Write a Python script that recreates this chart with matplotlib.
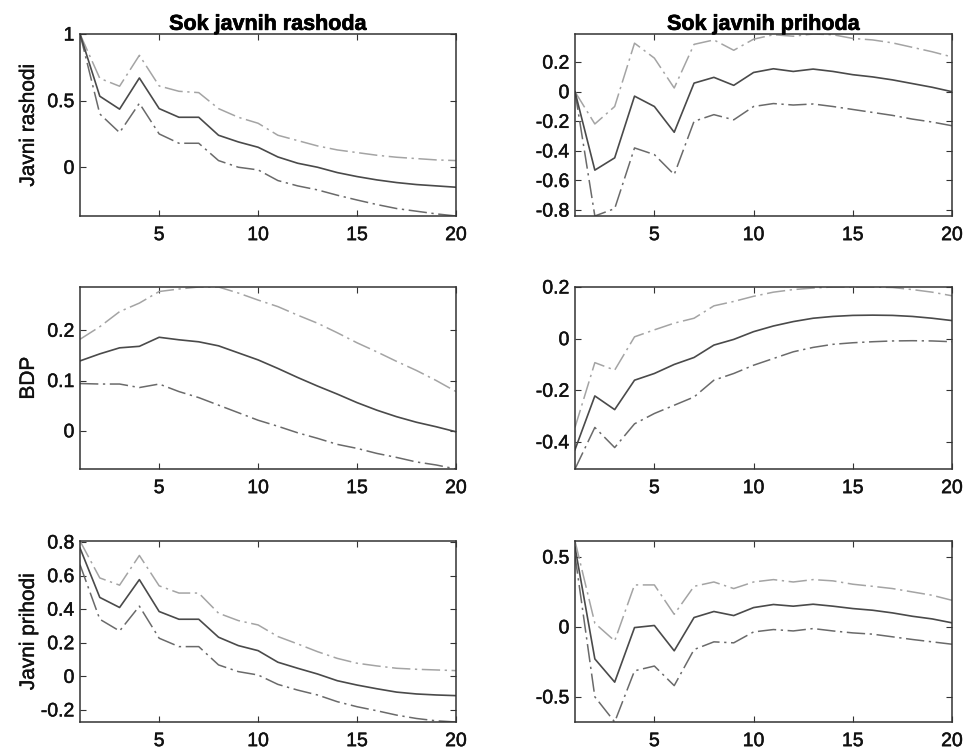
import matplotlib
matplotlib.use("Agg")
import matplotlib.pyplot as plt
import matplotlib.patheffects as pe
import numpy as np

plt.rcParams['font.family'] = ['Liberation Sans', 'DejaVu Sans']

periods = list(range(1, 21))

col_titles = ["Sok javnih rashoda", "Sok javnih prihoda"]
row_labels = ["Javni rashodi", "BDP", "Javni prihodi"]

# Shock: javni rashodi -> Javni rashodi
rr_mid = [1.0, 0.533, 0.436, 0.67, 0.44, 0.375, 0.375, 0.24, 0.19, 0.15,
          0.077, 0.03, 0.0, -0.04, -0.07, -0.095, -0.115, -0.13, -0.14, -0.15]
rr_up = [1.0, 0.667, 0.608, 0.84, 0.61, 0.57, 0.56, 0.44, 0.375, 0.33,
         0.24, 0.2, 0.16, 0.13, 0.11, 0.09, 0.075, 0.065, 0.055, 0.05]
rr_lo = [1.0, 0.40, 0.26, 0.48, 0.25, 0.18, 0.18, 0.05, 0.0, -0.02,
         -0.1, -0.14, -0.17, -0.21, -0.246, -0.28, -0.31, -0.33, -0.35, -0.366]

# Shock: javni prihodi -> Javni rashodi
pr_mid = [0.0, -0.53, -0.447, -0.03, -0.10, -0.274, 0.058, 0.097, 0.043, 0.13,
          0.155, 0.137, 0.153, 0.137, 0.115, 0.1, 0.08, 0.055, 0.03, 0.0]
pr_up = [0.0, -0.218, -0.10, 0.328, 0.227, 0.025, 0.32, 0.35, 0.28, 0.355,
         0.385, 0.375, 0.39, 0.385, 0.36, 0.35, 0.33, 0.30, 0.27, 0.235]
pr_lo = [0.0, -0.84, -0.79, -0.38, -0.425, -0.56, -0.20, -0.155, -0.19, -0.10,
         -0.08, -0.09, -0.083, -0.1, -0.12, -0.14, -0.16, -0.185, -0.205, -0.23]

# Shock: javni rashodi -> BDP
rb_mid = [0.139, 0.153, 0.165, 0.168, 0.186, 0.181, 0.177, 0.169, 0.155, 0.141,
          0.124, 0.106, 0.089, 0.073, 0.056, 0.041, 0.028, 0.017, 0.008, -0.002]
rb_up = [0.182, 0.207, 0.237, 0.254, 0.277, 0.282, 0.286, 0.286, 0.274, 0.26,
         0.247, 0.23, 0.214, 0.195, 0.175, 0.157, 0.138, 0.12, 0.1, 0.078]
rb_lo = [0.094, 0.093, 0.093, 0.086, 0.093, 0.078, 0.066, 0.051, 0.036, 0.021,
         0.009, -0.004, -0.015, -0.027, -0.035, -0.045, -0.053, -0.062, -0.068, -0.076]

# Shock: javni prihodi -> BDP
pb_mid = [-0.43, -0.222, -0.275, -0.161, -0.135, -0.1, -0.073, -0.025, -0.003, 0.027,
          0.049, 0.066, 0.079, 0.086, 0.09, 0.091, 0.09, 0.086, 0.079, 0.07]
pb_up = [-0.344, -0.093, -0.122, 0.007, 0.034, 0.06, 0.079, 0.127, 0.144, 0.164,
         0.18, 0.19, 0.196, 0.2, 0.2, 0.2, 0.198, 0.19, 0.18, 0.166]
pb_lo = [-0.505, -0.344, -0.422, -0.33, -0.29, -0.258, -0.226, -0.161, -0.135, -0.103,
         -0.077, -0.051, -0.034, -0.022, -0.016, -0.012, -0.009, -0.008, -0.009, -0.012]

# Shock: javni rashodi -> Javni prihodi
rp_mid = [0.764, 0.47, 0.41, 0.576, 0.386, 0.34, 0.34, 0.233, 0.183, 0.153,
          0.084, 0.048, 0.014, -0.026, -0.052, -0.074, -0.094, -0.105, -0.111, -0.115]
rp_up = [0.806, 0.586, 0.543, 0.72, 0.539, 0.496, 0.496, 0.376, 0.332, 0.306,
         0.237, 0.193, 0.147, 0.107, 0.078, 0.062, 0.048, 0.042, 0.038, 0.034]
rp_lo = [0.665, 0.34, 0.27, 0.418, 0.227, 0.177, 0.177, 0.068, 0.028, 0.008,
         -0.048, -0.082, -0.111, -0.151, -0.181, -0.205, -0.231, -0.251, -0.265, -0.272]

# Shock: javni prihodi -> Javni prihodi
pp_mid = [0.57, -0.229, -0.395, -0.005, 0.01, -0.171, 0.067, 0.11, 0.081, 0.138,
          0.16, 0.148, 0.162, 0.148, 0.131, 0.119, 0.1, 0.076, 0.057, 0.029]
pp_up = [0.614, 0.026, -0.10, 0.30, 0.30, 0.09, 0.29, 0.321, 0.274, 0.321,
         0.338, 0.321, 0.338, 0.329, 0.305, 0.29, 0.274, 0.25, 0.226, 0.19]
pp_lo = [0.51, -0.50, -0.68, -0.314, -0.28, -0.42, -0.162, -0.107, -0.114, -0.036,
         -0.019, -0.029, -0.012, -0.029, -0.043, -0.052, -0.071, -0.09, -0.107, -0.124]

panels = [
    [(rr_mid, rr_up, rr_lo), (pr_mid, pr_up, pr_lo)],
    [(rb_mid, rb_up, rb_lo), (pb_mid, pb_up, pb_lo)],
    [(rp_mid, rp_up, rp_lo), (pp_mid, pp_up, pp_lo)],
]

yticks = [
    [[0, 0.5, 1], [-0.8, -0.6, -0.4, -0.2, 0, 0.2]],
    [[0, 0.1, 0.2], [-0.4, -0.2, 0, 0.2]],
    [[-0.2, 0, 0.2, 0.4, 0.6, 0.8], [-0.5, 0, 0.5]],
]
xticks = [5, 10, 15, 20]

W, H = 969, 752
fig = plt.figure(figsize=(W / 100, H / 100), dpi=100)

col_x = [(80, 456), (575, 952)]
row_y = [(34, 216), (287, 469), (541, 722)]

dash = (12, 3, 1.5, 3)
tick_fx = [pe.withStroke(linewidth=0.35, foreground='#111111')]
title_fx = [pe.withStroke(linewidth=0.5, foreground='#000000')]

def fmt(v):
    if abs(v) < 1e-9:
        return "0"
    s = ("%.1f" % v)
    if s.endswith(".0"):
        s = s[:-2]
    return s

for r in range(3):
    for c in range(2):
        x0, x1 = col_x[c]
        y0, y1 = row_y[r]
        ax = fig.add_axes([x0 / W, 1 - y1 / H, (x1 - x0) / W, (y1 - y0) / H])
        mid, up, lo = panels[r][c]
        ax.plot(periods, up, color='#a4a4a4', lw=1.1, dashes=dash)
        ax.plot(periods, lo, color='#6a6a6a', lw=1.1, dashes=dash)
        ax.plot(periods, mid, color='#4a4a4a', lw=1.2)
        ax.set_xlim(1, 20)
        allv = np.concatenate([mid, up, lo])
        ax.set_ylim(allv.min(), allv.max())
        ax.set_xticks(xticks)
        ax.set_yticks(yticks[r][c])
        ax.set_yticklabels([fmt(v) for v in yticks[r][c]])
        ax.tick_params(direction='in', top=True, right=True, length=4,
                       width=0.8, color='#333333', labelsize=14,
                       labelcolor='#111111')
        ax.tick_params(axis='x', pad=8)
        ax.tick_params(axis='y', pad=4)
        for lab in ax.get_xticklabels() + ax.get_yticklabels():
            lab.set_path_effects(tick_fx)
        for s in ax.spines.values():
            s.set_linewidth(1.1)
            s.set_color('#333333')
        if r == 0:
            t = ax.set_title(col_titles[c], fontsize=15.5, fontweight='bold', pad=3)
            t.set_path_effects(title_fx)
        if c == 0:
            ax.set_ylabel(row_labels[r], fontsize=15, color='#111111')
            ax.yaxis.label.set_path_effects(
                [pe.withStroke(linewidth=0.3, foreground='#111111')])
            ax.yaxis.set_label_coords(-0.112, 0.5)

fig.savefig("out.png", dpi=100)
